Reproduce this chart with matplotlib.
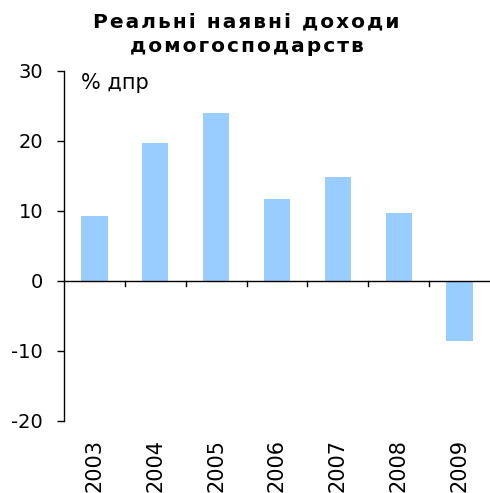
import matplotlib
matplotlib.use("Agg")
import matplotlib.pyplot as plt
import numpy as np

# data
years = ["2003", "2004", "2005", "2006", "2007", "2008", "2009"]
values = [9.3, 19.7, 24.0, 11.7, 14.9, 9.7, -8.6]
title_lines = ["Реальні наявні доходи", "домогосподарств"]
unit_label = "% дпр"


def spaced(s, sep="\u200a"):
    # loose letter spacing like the original title
    return sep.join(s)


fig = plt.figure(figsize=(4.9, 4.93), dpi=100)
ax = fig.add_axes([64 / 490, 1 - 421 / 493, 426 / 490, 350 / 493])

x = np.arange(len(years))
ax.bar(x, values, width=0.43, color="#99ccff", zorder=2)

ax.set_xlim(-0.5, len(years) - 0.5)
ax.set_ylim(-20, 30)
ax.set_yticks([-20, -10, 0, 10, 20, 30])
ax.set_yticklabels(["-20", "-10", "0", "10", "20", "30"], fontsize=14)
ax.tick_params(axis="y", direction="out", length=5, width=1, pad=10)

for s in ["top", "right", "bottom"]:
    ax.spines[s].set_visible(False)
ax.spines["left"].set_linewidth(1)

# x axis at zero with ticks between categories
ax.axhline(0, color="black", lw=1, zorder=3)
ax.set_xticks([])
for b in np.arange(0.5, len(years) - 0.5, 1):
    ax.plot([b, b], [0, -0.7], color="black", lw=1, clip_on=False, zorder=3)

for i, yr in enumerate(years):
    ax.text(i, -22.6, yr, rotation=90, ha="center", va="top", fontsize=15)

ax.text(0.04, 0.995, unit_label, transform=ax.transAxes, fontsize=15,
        ha="left", va="top")

fig.text(0.503, 0.975, "\n".join(spaced(l) for l in title_lines), ha="center",
         va="top", fontsize=14.5, fontweight="bold", linespacing=1.4)

fig.savefig("out.png", dpi=100)
